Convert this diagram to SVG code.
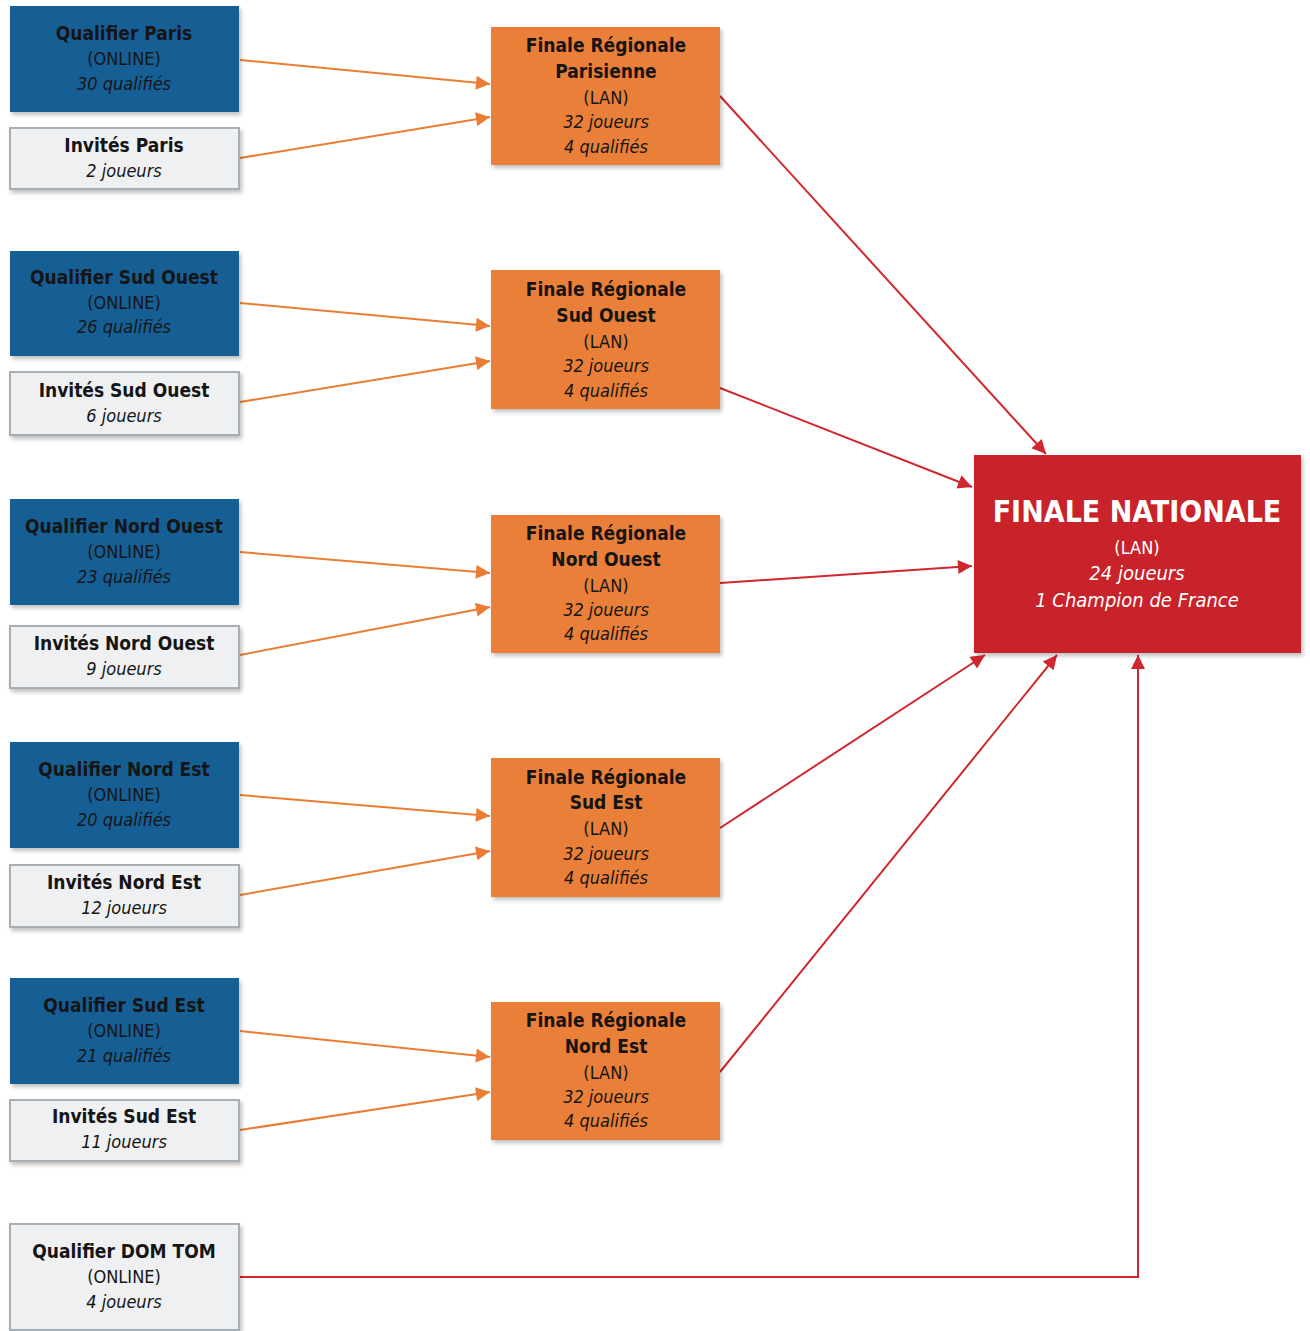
<svg xmlns="http://www.w3.org/2000/svg" width="1310" height="1331" viewBox="0 0 1310 1331">
<style>
text{font-family:"DejaVu Sans Condensed","DejaVu Sans",sans-serif;text-anchor:middle;fill:#151515}
.t{font-weight:bold;font-size:19px}
.n{font-size:18px}
.i{font-style:italic;font-size:18px}
.blue{fill:#165f95}
.grey{fill:#eef0f2;stroke:#a7aeb4;stroke-width:2}
.or{fill:#e97f37}
.red{fill:#c8242a}
.w{fill:#ffffff}
.oa{stroke:#ea7d33;stroke-width:2;fill:none;marker-end:url(#ao)}
.ra{stroke:#d0262e;stroke-width:2;fill:none;marker-end:url(#ar)}
</style>
<defs>
<marker id="ao" viewBox="0 0 10 10" refX="10" refY="5" markerWidth="16" markerHeight="14" markerUnits="userSpaceOnUse" orient="auto"><path d="M0,0 L10,5 L0,10 z" fill="#ea7d33"/></marker>
<marker id="ar" viewBox="0 0 10 10" refX="10" refY="5" markerWidth="16" markerHeight="14" markerUnits="userSpaceOnUse" orient="auto"><path d="M0,0 L10,5 L0,10 z" fill="#d0262e"/></marker>
<filter id="sh" x="-5%" y="-5%" width="115%" height="120%"><feDropShadow dx="2" dy="3" stdDeviation="2" flood-color="#000" flood-opacity="0.25"/></filter>
</defs>
<rect width="1310" height="1331" fill="#ffffff"/>
<g id="connectors">
<line class="oa" x1="240" y1="60" x2="490" y2="84"/>
<line class="oa" x1="240" y1="158" x2="490" y2="117"/>
<line class="oa" x1="240" y1="303" x2="490" y2="326"/>
<line class="oa" x1="240" y1="402" x2="490" y2="361"/>
<line class="oa" x1="240" y1="552" x2="490" y2="573"/>
<line class="oa" x1="240" y1="655" x2="490" y2="607"/>
<line class="oa" x1="240" y1="795" x2="490" y2="816"/>
<line class="oa" x1="240" y1="895" x2="490" y2="851"/>
<line class="oa" x1="240" y1="1031" x2="490" y2="1057"/>
<line class="oa" x1="240" y1="1130" x2="490" y2="1092"/>
<line class="ra" x1="720" y1="96" x2="1046" y2="454"/>
<line class="ra" x1="720" y1="388" x2="972" y2="487"/>
<line class="ra" x1="720" y1="583" x2="972" y2="566"/>
<line class="ra" x1="720" y1="828" x2="985" y2="655"/>
<line class="ra" x1="720" y1="1072" x2="1057" y2="655"/>
<polyline class="ra" points="240,1277 1138,1277 1138,655"/>
</g>
<g id="q-paris"><rect class="blue" x="10" y="6" width="229" height="106" filter="url(#sh)"/>
<text class="t" x="124" y="40">Qualifier Paris</text><text class="n" x="124" y="65">(ONLINE)</text><text class="i" x="124" y="90">30 qualifiés</text></g>
<g id="i-paris"><rect class="grey" x="10" y="128" width="229" height="61" filter="url(#sh)"/>
<text class="t" x="124" y="152">Invités Paris</text><text class="i" x="124" y="177">2 joueurs</text></g>
<g id="q-sudouest"><rect class="blue" x="10" y="251" width="229" height="105" filter="url(#sh)"/>
<text class="t" x="124" y="284">Qualifier Sud Ouest</text><text class="n" x="124" y="309">(ONLINE)</text><text class="i" x="124" y="333">26 qualifiés</text></g>
<g id="i-sudouest"><rect class="grey" x="10" y="372" width="229" height="63" filter="url(#sh)"/>
<text class="t" x="124" y="397">Invités Sud Ouest</text><text class="i" x="124" y="422">6 joueurs</text></g>
<g id="q-nordouest"><rect class="blue" x="10" y="499" width="229" height="106" filter="url(#sh)"/>
<text class="t" x="124" y="533">Qualifier Nord Ouest</text><text class="n" x="124" y="558">(ONLINE)</text><text class="i" x="124" y="583">23 qualifiés</text></g>
<g id="i-nordouest"><rect class="grey" x="10" y="626" width="229" height="62" filter="url(#sh)"/>
<text class="t" x="124" y="650">Invités Nord Ouest</text><text class="i" x="124" y="675">9 joueurs</text></g>
<g id="q-nordest"><rect class="blue" x="10" y="742" width="229" height="106" filter="url(#sh)"/>
<text class="t" x="124" y="776">Qualifier Nord Est</text><text class="n" x="124" y="801">(ONLINE)</text><text class="i" x="124" y="826">20 qualifiés</text></g>
<g id="i-nordest"><rect class="grey" x="10" y="865" width="229" height="62" filter="url(#sh)"/>
<text class="t" x="124" y="889">Invités Nord Est</text><text class="i" x="124" y="914">12 joueurs</text></g>
<g id="q-sudest"><rect class="blue" x="10" y="978" width="229" height="106" filter="url(#sh)"/>
<text class="t" x="124" y="1012">Qualifier Sud Est</text><text class="n" x="124" y="1037">(ONLINE)</text><text class="i" x="124" y="1062">21 qualifiés</text></g>
<g id="i-sudest"><rect class="grey" x="10" y="1100" width="229" height="61" filter="url(#sh)"/>
<text class="t" x="124" y="1123">Invités Sud Est</text><text class="i" x="124" y="1148">11 joueurs</text></g>
<g id="q-domtom"><rect class="grey" x="10" y="1224" width="229" height="106" filter="url(#sh)"/>
<text class="t" x="124" y="1258">Qualifier DOM TOM</text><text class="n" x="124" y="1283">(ONLINE)</text><text class="i" x="124" y="1308">4 joueurs</text></g>
<g id="fr-paris"><rect class="or" x="491" y="27" width="229" height="138" filter="url(#sh)"/>
<text class="t" x="606" y="52">Finale Régionale</text><text class="t" x="606" y="78">Parisienne</text><text class="n" x="606" y="104">(LAN)</text><text class="i" x="606" y="128">32 joueurs</text><text class="i" x="606" y="153">4 qualifiés</text></g>
<g id="fr-sudouest"><rect class="or" x="491" y="270" width="229" height="139" filter="url(#sh)"/>
<text class="t" x="606" y="296">Finale Régionale</text><text class="t" x="606" y="322">Sud Ouest</text><text class="n" x="606" y="348">(LAN)</text><text class="i" x="606" y="372">32 joueurs</text><text class="i" x="606" y="397">4 qualifiés</text></g>
<g id="fr-nordouest"><rect class="or" x="491" y="515" width="229" height="138" filter="url(#sh)"/>
<text class="t" x="606" y="540">Finale Régionale</text><text class="t" x="606" y="566">Nord Ouest</text><text class="n" x="606" y="592">(LAN)</text><text class="i" x="606" y="616">32 joueurs</text><text class="i" x="606" y="640">4 qualifiés</text></g>
<g id="fr-sudest"><rect class="or" x="491" y="758" width="229" height="139" filter="url(#sh)"/>
<text class="t" x="606" y="784">Finale Régionale</text><text class="t" x="606" y="809">Sud Est</text><text class="n" x="606" y="835">(LAN)</text><text class="i" x="606" y="860">32 joueurs</text><text class="i" x="606" y="884">4 qualifiés</text></g>
<g id="fr-nordest"><rect class="or" x="491" y="1002" width="229" height="138" filter="url(#sh)"/>
<text class="t" x="606" y="1027">Finale Régionale</text><text class="t" x="606" y="1053">Nord Est</text><text class="n" x="606" y="1079">(LAN)</text><text class="i" x="606" y="1103">32 joueurs</text><text class="i" x="606" y="1127">4 qualifiés</text></g>
<g id="finale-nationale"><rect class="red" x="974" y="455" width="327" height="198" filter="url(#sh)"/>
<text class="t w" x="1137" y="522" style="font-size:30px">FINALE NATIONALE</text><text class="n w" x="1137" y="554">(LAN)</text><text class="i w" x="1137" y="580" style="font-size:20px">24 joueurs</text><text class="i w" x="1137" y="607" style="font-size:20px">1 Champion de France</text></g>
</svg>
